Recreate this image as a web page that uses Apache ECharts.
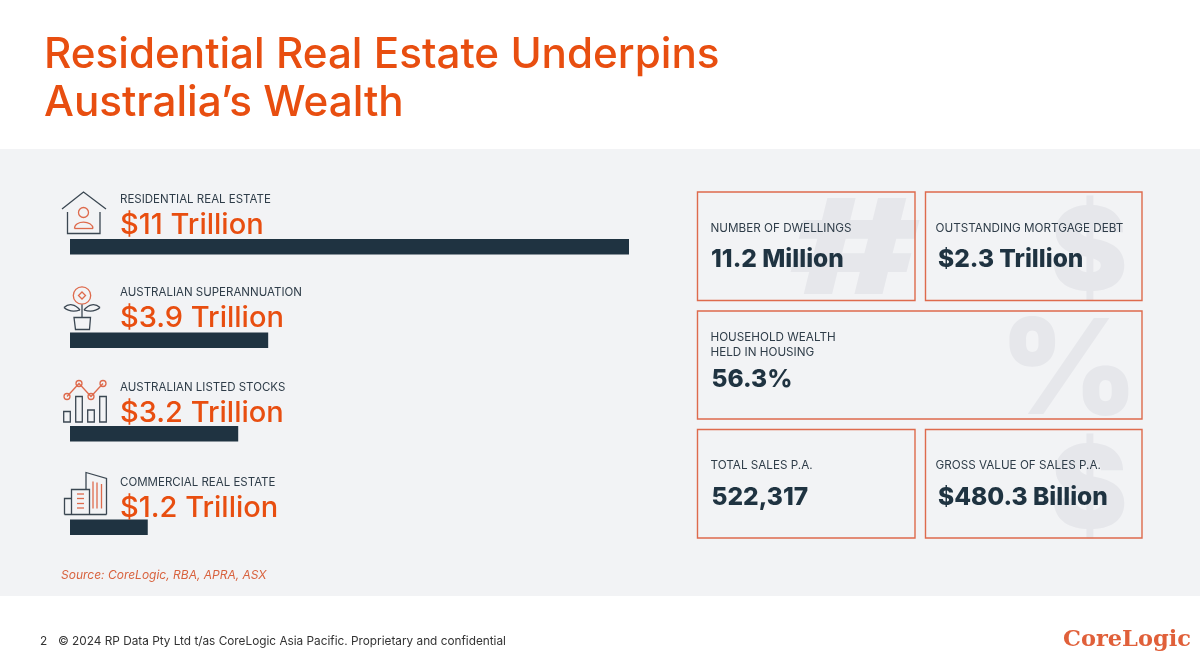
<!DOCTYPE html>
<html>
<head>
<meta charset="utf-8">
<style>
  html, body { margin: 0; padding: 0; background: #fff; }
  #chart { width: 1200px; height: 667px; }
</style>
<script src="https://cdn.jsdelivr.net/npm/echarts@6/dist/echarts.min.js"></script>
</head>
<body>
<div id="chart"></div>
<script>
// bar lengths as drawn on the slide, in trillions
const assetClasses = ['RESIDENTIAL REAL ESTATE', 'AUSTRALIAN SUPERANNUATION', 'AUSTRALIAN LISTED STOCKS', 'COMMERCIAL REAL ESTATE'];
const assetLabels = ['$11 Trillion', '$3.9 Trillion', '$3.2 Trillion', '$1.2 Trillion'];
const barValues = [11, 3.9, 3.31, 1.53];

const cardTitles = ['NUMBER OF DWELLINGS', 'OUTSTANDING MORTGAGE DEBT', 'HOUSEHOLD WEALTH\nHELD IN HOUSING', 'TOTAL SALES P.A.', 'GROSS VALUE OF SALES P.A.'];
const cardValues = ['11.2 Million', '$2.3 Trillion', '56.3%', '522,317', '$480.3 Billion'];

const ORANGE = '#e84e10';
const NAVY = '#1f3341';
const SOFT = '#de6a4c';
const FONT = 'Inter';

const chart = echarts.init(document.getElementById('chart'), null, { renderer: 'canvas' });

function text(x, y, str, size, color, extra) {
    return {
        type: 'text', x, y,
        style: Object.assign({ text: str, font: size + 'px ' + FONT, fill: color, textAlign: 'left', textVerticalAlign: 'middle' }, extra)
    };
}
function boldText(x, y, str, size, color) {
    return text(x, y, str, size, color, { font: '800 ' + size + 'px ' + FONT });
}
function poly(points, color, close) {
    return { type: close ? 'polygon' : 'polyline', shape: { points }, style: { stroke: color, fill: 'none', lineWidth: 1.3 } };
}
function circle(cx, cy, r, color) {
    return { type: 'circle', shape: { cx, cy, r }, style: { stroke: color, fill: 'none', lineWidth: 1.3 } };
}
function curve(x1, y1, cpx1, cpy1, cpx2, cpy2, x2, y2, color) {
    return { type: 'bezierCurve', shape: { x1, y1, cpx1, cpy1, cpx2, cpy2, x2, y2 }, style: { stroke: color, fill: 'none', lineWidth: 1.3 } };
}
function box(x, y, width, height, color) {
    return { type: 'rect', shape: { x, y, width, height }, style: { stroke: color || SOFT, fill: 'none', lineWidth: color ? 1.3 : 1.4 } };
}
function ghost(x, y, glyph, size, scaleX) {
    return Object.assign(text(0, 0, glyph, size, '#e6e7eb', { font: '900 ' + size + 'px ' + FONT, textAlign: 'center' }), { x, y, scaleX: scaleX || 1 });
}

const INK = '#3b4752';
const icons = [
    // house
    poly([[62, 209], [83.5, 192], [106, 209]], INK),
    poly([[67.5, 212], [67.5, 233.5], [100, 233.5], [100, 212]], INK),
    circle(83.5, 212.5, 5, SOFT),
    curve(74.5, 228.5, 74.5, 220, 92.5, 220, 93, 228.5, SOFT),
    poly([[74.5, 228.5], [93, 228.5]], SOFT),
    // plant
    circle(82, 295.5, 8.7, SOFT),
    poly([[82, 292], [85.5, 295.5], [82, 299], [78.5, 295.5]], SOFT, true),
    poly([[82, 304.5], [82, 317]], INK),
    curve(64, 307.5, 69, 303, 75, 304, 80, 310, INK),
    curve(64, 307.5, 68, 311, 74, 312, 80, 310, INK),
    curve(100, 307.5, 95, 303, 89, 304, 84, 310, INK),
    curve(100, 307.5, 96, 311, 90, 312, 84, 310, INK),
    poly([[74, 317.5], [90.5, 317.5], [89.5, 329.5], [75.5, 329.5]], INK, true),
    // stocks
    poly([[67, 396.5], [79, 383.5], [91, 396.5], [103, 383.5]], SOFT),
    circle(67, 396.5, 3, SOFT), circle(79, 383.5, 3, SOFT), circle(91, 396.5, 3, SOFT), circle(103, 383.5, 3, SOFT),
    box(63.7, 411.5, 6.6, 10.5, INK),
    box(75.7, 396.5, 6.6, 25.5, INK),
    box(87.7, 410, 6.6, 12, INK),
    box(99.7, 396.5, 6.6, 25.5, INK),
    // buildings
    poly([[86, 489], [86, 472.5], [106.5, 478.5], [106.5, 514.5]], INK),
    poly([[64.5, 514.5], [106.5, 514.5]], INK),
    poly([[64.5, 514.5], [64.5, 498.5], [71.5, 498.5]], INK),
    poly([[71.5, 514.5], [71.5, 489.5], [89.5, 489.5], [89.5, 514.5]], INK),
    poly([[93, 481.5], [93, 508.5]], SOFT), poly([[97, 482.5], [97, 508.5]], SOFT), poly([[101.5, 484], [101.5, 508.5]], SOFT),
    poly([[77, 494], [84, 494]], SOFT), poly([[77, 498.5], [84, 498.5]], SOFT), poly([[77, 503.5], [84, 503.5]], SOFT), poly([[77, 508], [84, 508]], SOFT)
];

const CARD_TEXT = '#2f3d49';
const cards = [
    ghost(855, 254, '#', 132, 1.5),
    ghost(1089, 255, '$', 116),
    ghost(1069, 374, '%', 132),
    ghost(1089, 493, '$', 116),
    box(697.5, 192, 217.5, 108.5),
    box(925.5, 192, 216.5, 108.5),
    box(697.5, 311, 444.5, 108),
    box(697.5, 429.5, 217.5, 108.5),
    box(925.5, 429.5, 216.5, 108.5),
    text(710.5, 228, cardTitles[0], 11.7, CARD_TEXT),
    boldText(711, 260, cardValues[0], 24.5, NAVY),
    text(935.5, 228, cardTitles[1], 11.7, CARD_TEXT),
    boldText(938, 260, cardValues[1], 24.5, NAVY),
    text(710.5, 344.5, cardTitles[2], 11.7, CARD_TEXT, { lineHeight: 15 }),
    boldText(711.5, 380, cardValues[2], 24.5, NAVY),
    text(710.5, 465, cardTitles[3], 11.7, CARD_TEXT),
    boldText(711.5, 498, cardValues[3], 24.5, NAVY),
    text(935.5, 465, cardTitles[4], 11.7, CARD_TEXT),
    boldText(938, 498, cardValues[4], 24.5, NAVY)
];

// the lower two labels sit a little closer to their bars
const labelNudge = [0, 0, 1, 2.5];

const option = {
    animation: false,
    backgroundColor: '#ffffff',
    title: {
        text: 'Residential Real Estate Underpins\nAustralia’s Wealth',
        left: 39, top: 26,
        textStyle: { color: ORANGE, fontFamily: FONT, fontSize: 42.2, fontWeight: 500, lineHeight: 48 }
    },
    grid: { left: 70, top: 200, width: 559, height: 374 },
    xAxis: { type: 'value', min: 0, max: 11, show: false },
    yAxis: { type: 'category', data: assetClasses, inverse: true, show: false },
    graphic: [].concat(
        [{ type: 'rect', z: -10, shape: { x: 0, y: 149, width: 1200, height: 447 }, style: { fill: '#f2f3f5' } }],
        icons,
        cards,
        [
            text(61, 575, 'Source: CoreLogic, RBA, APRA, ASX', 12, '#d8623e', { font: 'italic 12px ' + FONT }),
            text(40, 641, '2', 11.8, '#333333'),
            text(58, 641, '© 2024 RP Data Pty Ltd t/as CoreLogic Asia Pacific. Proprietary and confidential', 11.8, '#333333'),
            text(1063, 640, 'CoreLogic', 22.5, '#e0603a', { font: 'bold 22.5px "DejaVu Serif"' })
        ]
    ),
    series: [{
        type: 'bar',
        data: barValues,
        barWidth: 15.5,
        itemStyle: { color: NAVY },
        silent: true,
        label: {
            show: true,
            position: [50, -48],
            formatter: p => '{n|' + assetClasses[p.dataIndex] + '}\n{v|' + assetLabels[p.dataIndex] + '}',
            rich: {
                n: { fontFamily: FONT, fontSize: 11.5, color: CARD_TEXT, lineHeight: 17 },
                v: { fontFamily: FONT, fontSize: 29, fontWeight: 500, color: ORANGE, lineHeight: 34 }
            }
        },
        labelLayout: p => ({ dy: labelNudge[p.dataIndex] })
    }]
};
chart.setOption(option);
</script>
</body>
</html>
